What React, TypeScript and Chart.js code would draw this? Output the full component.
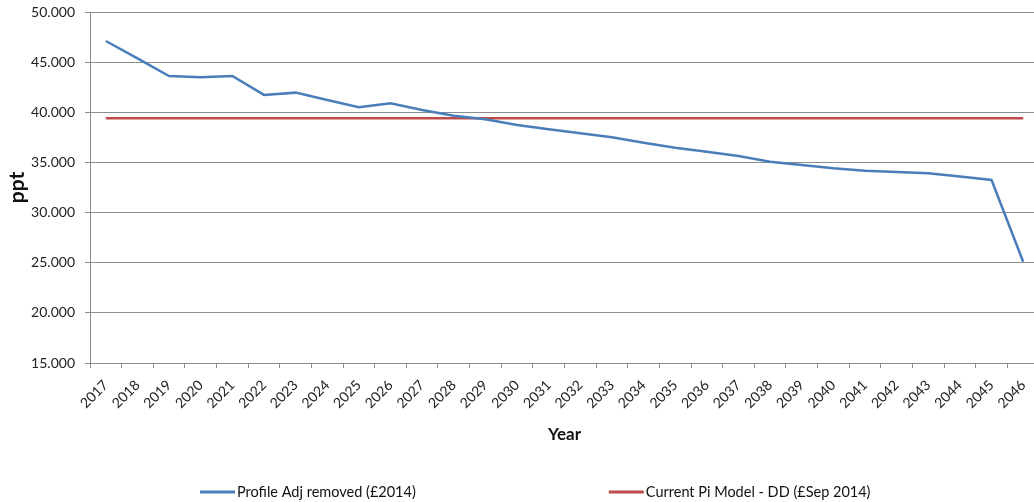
import React, { useEffect, useRef } from "react";
import { Chart, registerables } from "chart.js";

Chart.register(...registerables);

// Projection years
const years: string[] = [
  "2017", "2018", "2019", "2020", "2021", "2022", "2023", "2024", "2025", "2026",
  "2027", "2028", "2029", "2030", "2031", "2032", "2033", "2034", "2035", "2036",
  "2037", "2038", "2039", "2040", "2041", "2042", "2043", "2044", "2045", "2046",
];

// Profile Adj removed (£2014), ppt
const profileAdjRemoved: number[] = [
  47.11, 45.38, 43.62, 43.49, 43.62, 41.73, 41.96, 41.23, 40.5, 40.9,
  40.23, 39.66, 39.3, 38.73, 38.3, 37.9, 37.5, 36.97, 36.47, 36.07,
  35.64, 35.07, 34.75, 34.42, 34.18, 34.05, 33.92, 33.6, 33.25, 25.1,
];

// Current Pi Model - DD (£Sep 2014), flat level
const currentPiModel: number[] = years.map(() => 39.4);

const yTicks = { min: 15, max: 50, step: 5 };

const FONT = "Lato, 'Liberation Sans', sans-serif";
const GRID = "#8c8c8c";

// Draws a wide-spaced legend below the axis title
const bottomLegend = {
  id: "bottomLegend",
  afterDraw(chart: any) {
    const { ctx } = chart;
    const y = 492;
    const lineLen = 35;
    const gap = 193;
    let x = 200;
    ctx.save();
    ctx.font = `14.5px ${FONT}`;
    ctx.textBaseline = "middle";
    ctx.textAlign = "left";
    chart.data.datasets.forEach((ds: any) => {
      ctx.strokeStyle = ds.borderColor;
      ctx.lineWidth = 3;
      ctx.beginPath();
      ctx.moveTo(x, y);
      ctx.lineTo(x + lineLen, y);
      ctx.stroke();
      ctx.fillStyle = "#111";
      ctx.fillText(ds.label, x + lineLen + 2, y);
      x += lineLen + 2 + ctx.measureText(ds.label).width + gap;
    });
    ctx.restore();
  },
};

export default function App() {
  const canvasRef = useRef<HTMLCanvasElement | null>(null);

  useEffect(() => {
    if (!canvasRef.current) return;
    const chart = new Chart(canvasRef.current, {
      type: "line",
      data: {
        labels: years,
        datasets: [
          {
            label: "Profile Adj removed (£2014)",
            data: profileAdjRemoved,
            borderColor: "#4a7ebb",
            borderWidth: 2.5,
            pointRadius: 0,
            tension: 0,
          },
          {
            label: "Current Pi Model - DD (£Sep 2014)",
            data: currentPiModel,
            borderColor: "#be4b48",
            borderWidth: 2.5,
            pointRadius: 0,
            tension: 0,
          },
        ],
      },
      options: {
        animation: false,
        responsive: false,
        devicePixelRatio: 1,
        layout: { padding: { top: 12, right: 7, bottom: 50, left: 0 } },
        plugins: {
          legend: { display: false },
          tooltip: { enabled: false },
        },
        scales: {
          x: {
            type: "category",
            offset: true,
            afterFit(scale: any) {
              scale.height = 89;
            },
            grid: {
              offset: true,
              drawOnChartArea: false,
              tickLength: 5,
              color: GRID,
            },
            border: { color: GRID, width: 1 },
            ticks: {
              autoSkip: false,
              minRotation: 45,
              maxRotation: 45,
              padding: 9,
              color: "#222",
              font: { family: FONT, size: 14 },
            },
            title: {
              display: true,
              text: "Year",
              color: "#111",
              font: { family: FONT, size: 17, weight: "bold" },
              padding: { top: 4, bottom: 7 },
            },
          },
          y: {
            min: yTicks.min,
            max: yTicks.max,
            afterFit(scale: any) {
              scale.width = 90;
              scale.paddingTop = 0;
              scale.paddingBottom = 0;
            },
            grid: { color: GRID, tickLength: 5, lineWidth: 1 },
            border: { color: GRID, width: 1 },
            ticks: {
              stepSize: yTicks.step,
              padding: 10,
              color: "#222",
              font: { family: FONT, size: 14 },
              callback: (v: any) => Number(v).toFixed(3),
            },
            title: {
              display: true,
              text: "ppt",
              color: "#111",
              font: { family: FONT, size: 21, weight: "bold" },
              padding: { top: 5, bottom: 0 },
            },
          },
        },
      },
      plugins: [bottomLegend],
    });
    return () => chart.destroy();
  }, []);

  return (
    <div
      style={{
        position: "fixed",
        left: 0,
        top: 0,
        width: 1034,
        height: 502,
        overflow: "hidden",
        background: "#fff",
      }}
    >
      <canvas ref={canvasRef} width={1046} height={502} style={{ display: "block" }} />
    </div>
  );
}
